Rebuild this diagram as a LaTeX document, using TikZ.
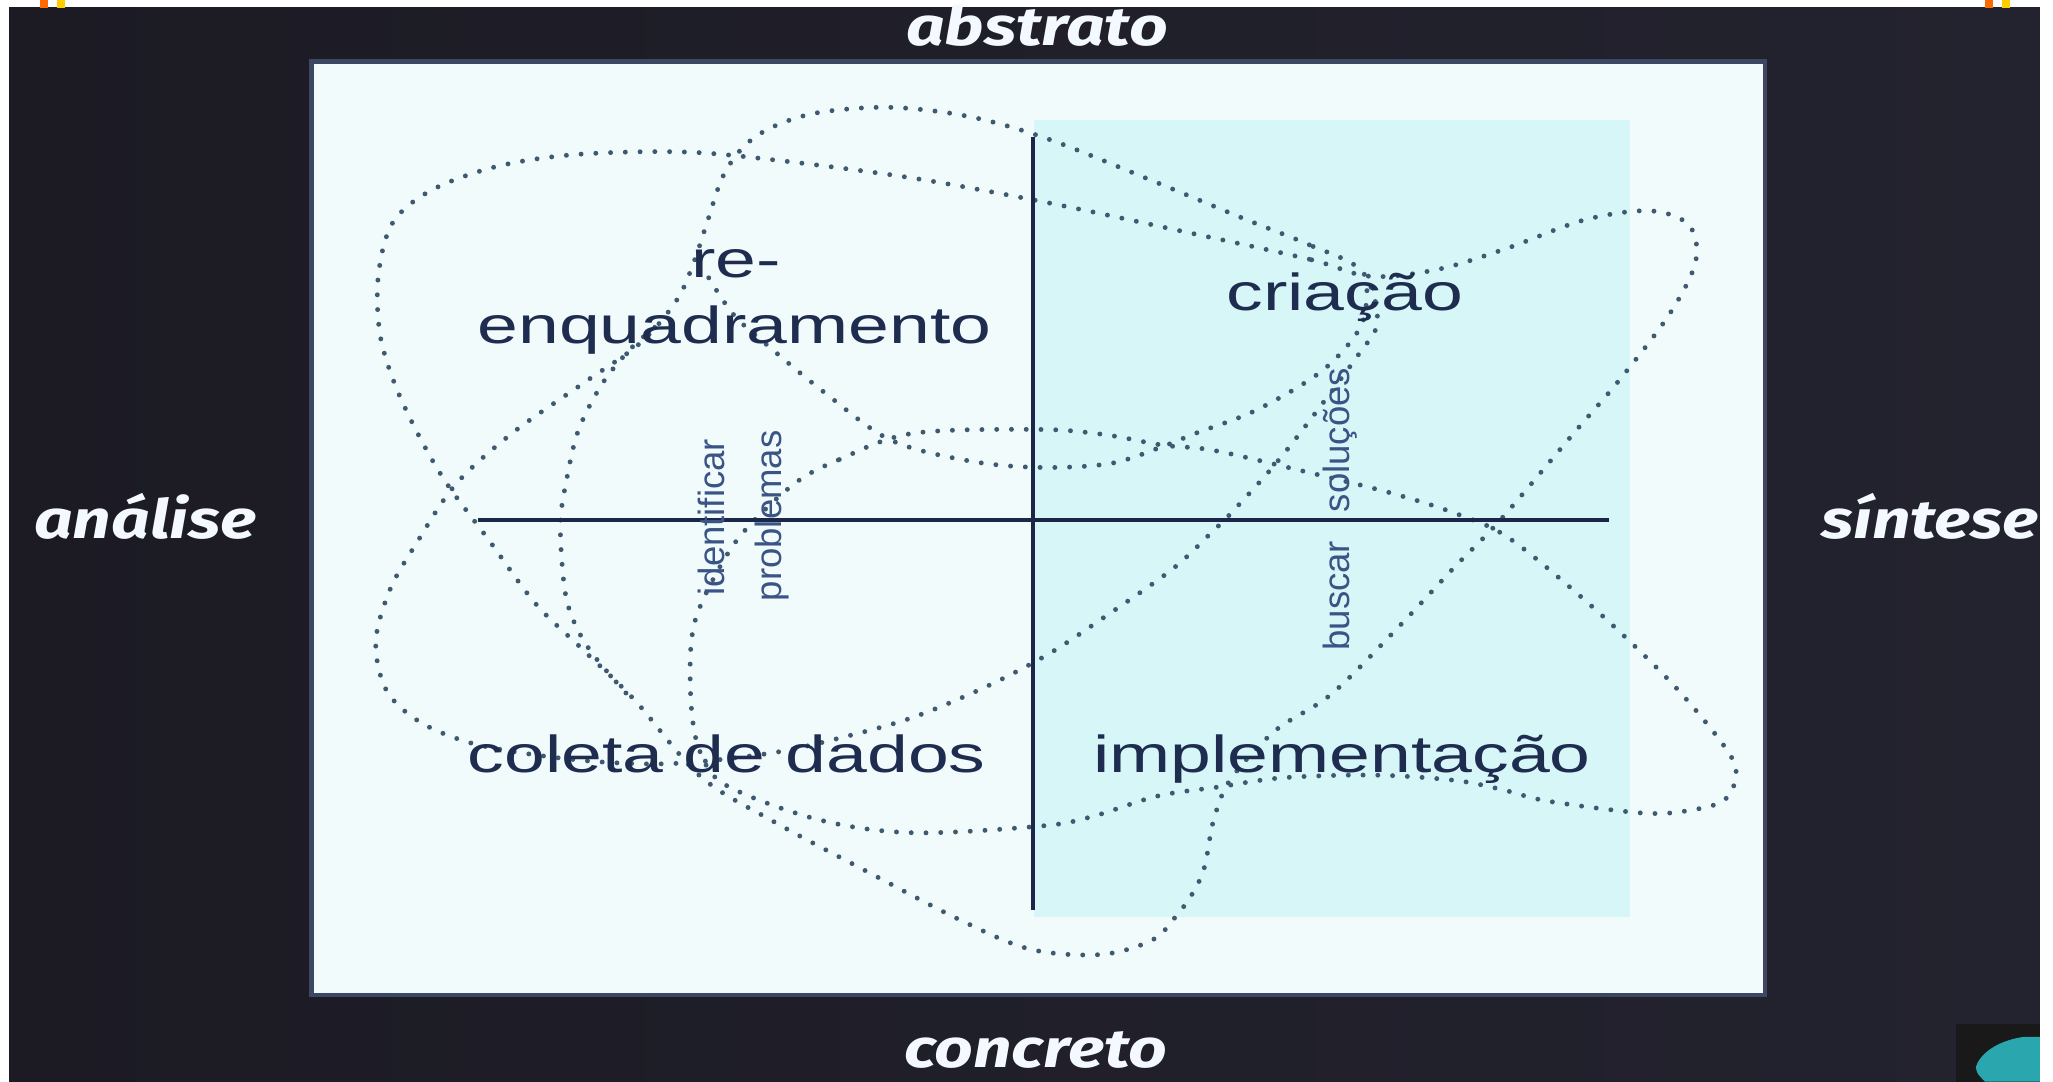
\documentclass[tikz,border=0pt]{standalone}
\usepackage{fontspec}
\setmainfont{Liberation Sans}
\newfontfamily\slidefont[FakeStretch=1.41]{Liberation Sans}
\newfontfamily\vertfont{Liberation Sans}
\newfontfamily\labfont[FakeStretch=1.25]{Fira Sans}
\definecolor{bgL}{HTML}{1C1B24}
\definecolor{bgR}{HTML}{23232F}
\definecolor{panelc}{HTML}{F1FBFB}
\definecolor{cyanq}{HTML}{D6F6F7}
\definecolor{navy}{HTML}{1E2C50}
\definecolor{vnavy}{HTML}{3A5486}
\definecolor{dotc}{HTML}{3F5A70}
\definecolor{axisc}{HTML}{1A2748}
\definecolor{orangem}{HTML}{FF6A00}
\definecolor{yellowm}{HTML}{FFCC00}
\definecolor{tealc}{HTML}{2AA6AE}
\definecolor{labc}{HTML}{F4F8FF}
\begin{document}
\begin{tikzpicture}[x=0.013093cm, y=-0.013093cm,
  dotline/.style={draw=dotc, line width=1.4pt, line cap=round, dash pattern=on 0pt off 4.2pt},
  axisline/.style={draw=axisc, line width=1.1pt},
  slide/.style={inner sep=0pt, text=navy, font=\slidefont\fontsize{14.8}{17}\selectfont},
  vert/.style={inner sep=0pt, text=vnavy, font=\vertfont\fontsize{10.4}{12}\selectfont},
  lab/.style={inner sep=0pt, text=labc, font=\labfont\bfseries\itshape\fontsize{15.4}{17}\selectfont}]
\useasboundingbox (0,0) rectangle (1568,826);
\fill[white] (0,0) rectangle (1568,826);
\fill[left color=bgL, right color=bgR] (7,6) rectangle (1558,826);
% marks on top
\fill[orangem] (30.5,0) rectangle (36.7,6);
\fill[yellowm] (43.5,0) rectangle (49.6,6);
\fill[orangem] (1516,0) rectangle (1522,6);
\fill[yellowm] (1529,0) rectangle (1535,6);
% logo
\fill[black!90] (1494,782) rectangle (1558,826);
\fill[tealc] (1558,792) -- (1545,792) .. controls (1525,795) and (1512,805) .. (1509,815)
  .. controls (1510,820) .. (1516,826) -- (1558,826) -- cycle;
% panel
\fill[panelc] (238,47) rectangle (1348,760);
\draw[axisc!85, line width=1.3pt] (238,47) rectangle (1348,760);
\fill[cyanq] (790,92) rectangle (1245,700);
% dotted loops
\draw[dotline] plot[smooth cycle, tension=0.55] coordinates {
 (1046,211) (1000,198) (900,176) (801,155) (697,136) (590,122) (520,116) (440,118)
 (380,127) (330,145) (300,170) (289,210) (290,254) (301,292) (319,331) (341,369)
 (373,412) (409,461) (445,496) (485,535) (535,593) (590,627) (661,665) (734,703)
 (787,725) (841,729) (880,718) (898,700) (911,682) (920,662) (927,626) (940,595)
 (974,558) (1017,530) (1068,479) (1111,433) (1146,397) (1201,332) (1237,290)
 (1275,240) (1295,200) (1290,172) (1260,161) (1210,168) (1150,190) (1097,206)};
\draw[dotline] plot[smooth cycle, tension=0.55] coordinates {
 (1040,207) (1000,187) (950,167) (880,138) (800,106) (740,89) (680,82) (625,86)
 (590,97) (568,112) (552,135) (540,170) (530,200) (517,229) (489,262) (445,293)
 (391,331) (348,370) (318,415) (298,450) (287,490) (295,527) (320,551) (358,567)
 (405,576) (460,582) (517,583) (590,575) (644,563) (697,548) (752,525) (800,500)
 (841,473) (895,435) (926,406) (942,390) (981,346) (1036,273) (1052,245)};
\draw[dotline] plot[smooth cycle, tension=0.55] coordinates {
 (606,370) (641,351) (697,331) (794,328) (844,332) (888,340) (927,344) (996,360)
 (1064,377) (1114,393) (1154,412) (1219,466) (1277,522) (1317,570) (1326,591)
 (1317,611) (1290,619) (1255,621) (1183,612) (1147,603) (1111,596) (1050,592)
 (980,594) (931,601) (884,608) (833,624) (794,631) (697,636) (625,626) (555,600)
 (535,575) (528,540) (528,490) (537,458) (564,411)};
\draw[dotline] plot[smooth, tension=0.55] coordinates {
 (1044,222) (1039,250) (1010,283) (960,313) (913,331) (888,341) (848,354) (794,357)
 (740,352) (680,336) (630,300) (590,267) (560,240) (537,205)};
\draw[dotline] plot[smooth, tension=0.55] coordinates {
 (500,250) (481,267) (460,293) (442,328) (433,365) (428,400) (431,448) (438,474)
 (453,500) (485,537)};
% axes
\coordinate (hL) at (365,397);
\coordinate (hR) at (1229,397);
\coordinate (vT) at (789,105);
\coordinate (vB) at (789,695);
\draw[axisline] (hL) -- (hR);
\draw[axisline] (vT) -- (vB);
% quadrant texts
\node[slide, anchor=base] (re) at (562,212) {re-};
\node[slide, anchor=base] (enq) at (561,262) {enquadramento};
\node[slide, anchor=base] (cri) at (1027,237) {criação};
\node[slide, anchor=base] (col) at (555,590) {coleta de dados};
\node[slide, anchor=base] (imp) at (1025,590) {implementação};
% vertical texts
\node[vert, rotate=90, anchor=base] (idf) at (553,395) {identificar};
\node[vert, rotate=90, anchor=base] (prb) at (597,394) {problemas};
\node[vert, rotate=90, anchor=base] (sol) at (1031,336) {soluções};
\node[vert, rotate=90, anchor=base] (bus) at (1031,455) {buscar};
% outer labels
\node[lab, anchor=base] (abs) at (792,35) {abstrato};
\node[lab, anchor=base] (ana) at (111,411) {análise};
\node[lab, anchor=base] (sin) at (1474,411) {síntese};
\node[lab, anchor=base] (con) at (791,815) {concreto};
\end{tikzpicture}
\end{document}
